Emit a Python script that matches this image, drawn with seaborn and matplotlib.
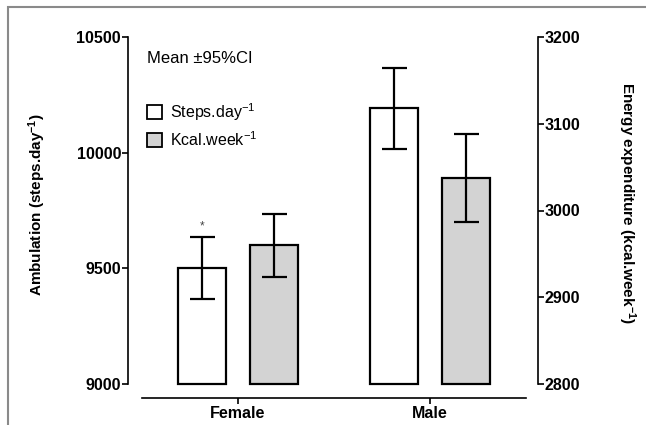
import seaborn as sns
import pandas as pd
import numpy as np
import matplotlib
matplotlib.use("Agg")
import matplotlib.pyplot as plt
from matplotlib.patches import Patch, Rectangle

sns.set_theme(style="ticks")
plt.rcParams['font.family'] = ['Liberation Sans', 'DejaVu Sans']
plt.rcParams['mathtext.default'] = 'regular'
for k in ['text.color', 'axes.labelcolor', 'xtick.color', 'ytick.color']:
    plt.rcParams[k] = 'black'

# data
sexes = ["Female", "Male"]
steps_mean = [9500, 10193]
steps_lo = [9367, 10016]
steps_hi = [9636, 10366]
kcal_mean = [2960, 3037]
kcal_lo = [2923, 2987]
kcal_hi = [2996, 3088]
measures = ["Steps.day$^{-1}$", "Kcal.week$^{-1}$"]
colors = ["white", "#d3d3d3"]

steps_df = pd.DataFrame({"sex": sexes, "value": steps_mean, "measure": measures[0]})
kcal_df = pd.DataFrame({"sex": sexes, "value": kcal_mean, "measure": measures[1]})

fig = plt.figure(figsize=(6.46, 4.25), dpi=100)
ax = fig.add_axes([128/646, 1-398/425, (538-128)/646, (398-37)/425])
ax2 = ax.twinx()

lw = 1.6
for a, df, base in [(ax, steps_df, 9000), (ax2, kcal_df, 2800)]:
    sns.barplot(data=df, x="sex", y="value", hue="measure", hue_order=measures,
                order=sexes, palette=dict(zip(measures, colors)), width=0.75, gap=1/3,
                dodge=True, edgecolor="black", linewidth=lw, errorbar=None,
                legend=False, ax=a)
    for p in a.patches:
        p.set_height(p.get_height() - base)
        p.set_y(base)

# error bars (95% CI)
for a, mean, lo, hi, off in [(ax, steps_mean, steps_lo, steps_hi, -0.1875),
                             (ax2, kcal_mean, kcal_lo, kcal_hi, 0.1875)]:
    xs = np.arange(len(sexes)) + off
    yerr = [np.array(mean) - np.array(lo), np.array(hi) - np.array(mean)]
    a.errorbar(xs, mean, yerr=yerr, fmt="none", ecolor="black", elinewidth=lw,
               capsize=9, capthick=lw, zorder=5)

ax.set_xlim(-0.573, 1.5625)
ax.set_ylim(9000 - 14/0.2313, 10500)
ax2.set_ylim(2800 - 14/0.8675, 3200)

# significance mark
ax.text(-0.1875, steps_hi[0] + 20, "*", ha="center", va="bottom", fontsize=8.5, color="#444444")

for a in (ax, ax2):
    a.spines["top"].set_visible(False)
ax.spines["right"].set_visible(False)
ax2.spines["left"].set_visible(False)
ax2.spines["bottom"].set_visible(False)
ax.spines["left"].set_bounds(9000, 10500)
ax2.spines["right"].set_bounds(2800, 3200)
ax.spines["bottom"].set_bounds(-0.5, 1.5)
for a in (ax, ax2):
    for s in a.spines.values():
        s.set_linewidth(1.2)
        s.set_color("black")

ax.set_yticks([9000, 9500, 10000, 10500])
ax2.set_yticks([2800, 2900, 3000, 3100, 3200])
ax.tick_params(axis="y", length=4, width=1.2, labelsize=11.5, pad=1)
ax2.tick_params(axis="y", length=4, width=1.2, labelsize=11.5, pad=1)
ax.tick_params(axis="x", length=4, width=1.2, labelsize=11.5, pad=2)
for lab in ax.get_yticklabels() + ax2.get_yticklabels() + ax.get_xticklabels():
    lab.set_fontweight("bold")

ax.set_xlabel("")
ax.set_ylabel("Ambulation (steps.day$^{-1}$)", fontsize=11, fontweight="bold",
              va="center", ha="center")
ax.yaxis.set_label_coords(-0.222, 0.535)
ax2.set_ylabel("Energy expenditure (kcal.week$^{-1}$)", fontsize=11, fontweight="bold",
               rotation=270, va="center", ha="center")
ax2.yaxis.set_label_coords(1.217, 0.54)

ax.text(0.047, 0.94, "Mean \u00b195%CI", transform=ax.transAxes, fontsize=12, va="center")
handles = [Patch(facecolor=c, edgecolor="black", linewidth=1.3, label=m)
           for c, m in zip(colors, measures)]
ax.legend(handles=handles, loc="upper left", bbox_to_anchor=(0.03, 0.84), frameon=False,
          fontsize=11.5, handlelength=0.95, handleheight=0.95, handletextpad=0.5,
          labelspacing=0.45, borderaxespad=0)

# outer frame of the original image
fig.add_artist(Rectangle((7.5/646, -0.2), 2, 1.2 - 6.5/425, transform=fig.transFigure,
                         fill=False, edgecolor="#8a8a8a", linewidth=1.5))

fig.savefig("out.png", dpi=100)
